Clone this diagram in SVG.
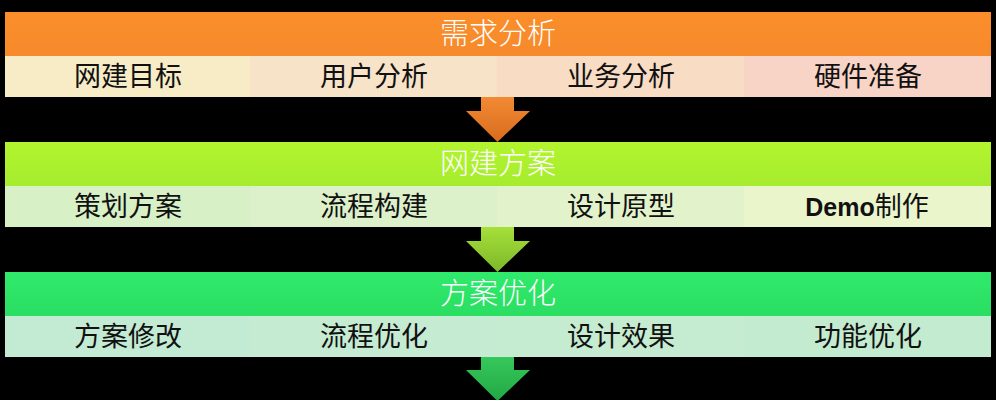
<svg xmlns="http://www.w3.org/2000/svg" width="996" height="400" viewBox="0 0 996 400">
<defs>
<linearGradient id="gOrange" x1="0" y1="0" x2="0" y2="1"><stop offset="0" stop-color="#fb8e2a"/><stop offset="1" stop-color="#f68a2c"/></linearGradient>
<linearGradient id="gLime" x1="0" y1="0" x2="0" y2="1"><stop offset="0" stop-color="#b2f52e"/><stop offset="1" stop-color="#a6ec2e"/></linearGradient>
<linearGradient id="gGreen" x1="0" y1="0" x2="0" y2="1"><stop offset="0" stop-color="#30ea6c"/><stop offset="1" stop-color="#2ade62"/></linearGradient>
<linearGradient id="aOrange" x1="0" y1="0" x2="0" y2="1"><stop offset="0" stop-color="#f28a34"/><stop offset="1" stop-color="#d86c1c"/></linearGradient>
<linearGradient id="aLime" x1="0" y1="0" x2="0" y2="1"><stop offset="0" stop-color="#a6e03a"/><stop offset="1" stop-color="#7cb82a"/></linearGradient>
<linearGradient id="aGreen" x1="0" y1="0" x2="0" y2="1"><stop offset="0" stop-color="#36c85a"/><stop offset="1" stop-color="#22a844"/></linearGradient>
</defs>
<style>
.title{font-family:"Noto Sans CJK SC",sans-serif;font-size:29px;fill:#ffffff;text-anchor:middle;font-weight:300}
.cell{font-family:"Noto Sans CJK SC",sans-serif;font-size:27px;fill:#111111;text-anchor:middle}
.demo{font-family:"Liberation Sans",sans-serif;font-weight:bold;font-size:25px}
</style>
<rect x="0" y="0" width="996" height="400" fill="#000000"/>

<g id="connectors">
<path d="M481,97 H514 V111 H530 L497.5,142 L466,111 H481 Z" fill="url(#aOrange)"/>
<path d="M481,227 H514 V241 H530 L497.5,272 L466,241 H481 Z" fill="url(#aLime)"/>
<path d="M481,357 H514 V370 H530 L497.5,401 L466,370 H481 Z" fill="url(#aGreen)"/>
</g>

<g id="stage1">
<rect x="5" y="12" width="986" height="44" fill="url(#gOrange)"/>
<text class="title" x="498" y="44">需求分析</text>
</g>
<g id="stage1-cells">
<g id="c1-1"><rect x="5" y="56" width="245" height="41" fill="#f7ecc6"/><text class="cell" x="128" y="86">网建目标</text></g>
<g id="c1-2"><rect x="250" y="56" width="247" height="41" fill="#f6e3c8"/><text class="cell" x="374" y="86">用户分析</text></g>
<g id="c1-3"><rect x="497" y="56" width="247" height="41" fill="#f8dcc4"/><text class="cell" x="621" y="86">业务分析</text></g>
<g id="c1-4"><rect x="744" y="56" width="247" height="41" fill="#f7d4c5"/><text class="cell" x="868" y="86">硬件准备</text></g>
</g>

<g id="stage2">
<rect x="5" y="142" width="986" height="44" fill="url(#gLime)"/>
<text class="title" x="498" y="174">网建方案</text>
</g>
<g id="stage2-cells">
<g id="c2-1"><rect x="5" y="186" width="245" height="41" fill="#d7f0c6"/><text class="cell" x="128" y="216">策划方案</text></g>
<g id="c2-2"><rect x="250" y="186" width="247" height="41" fill="#dcf0ca"/><text class="cell" x="374" y="216">流程构建</text></g>
<g id="c2-3"><rect x="497" y="186" width="247" height="41" fill="#e2f3cb"/><text class="cell" x="621" y="216">设计原型</text></g>
<g id="c2-4"><rect x="744" y="186" width="247" height="41" fill="#eaf5cb"/><text class="cell" x="867" y="216"><tspan class="demo">Demo</tspan>制作</text></g>
</g>

<g id="stage3">
<rect x="5" y="272" width="986" height="44" fill="url(#gGreen)"/>
<text class="title" x="498" y="304">方案优化</text>
</g>
<g id="stage3-cells">
<g id="c3-1"><rect x="5" y="316" width="245" height="41" fill="#c3ebd4"/><text class="cell" x="128" y="346">方案修改</text></g>
<g id="c3-2"><rect x="250" y="316" width="247" height="41" fill="#c6ebd3"/><text class="cell" x="374" y="346">流程优化</text></g>
<g id="c3-3"><rect x="497" y="316" width="247" height="41" fill="#c5ebd0"/><text class="cell" x="621" y="346">设计效果</text></g>
<g id="c3-4"><rect x="744" y="316" width="247" height="41" fill="#c3ebcf"/><text class="cell" x="868" y="346">功能优化</text></g>
</g>
</svg>
